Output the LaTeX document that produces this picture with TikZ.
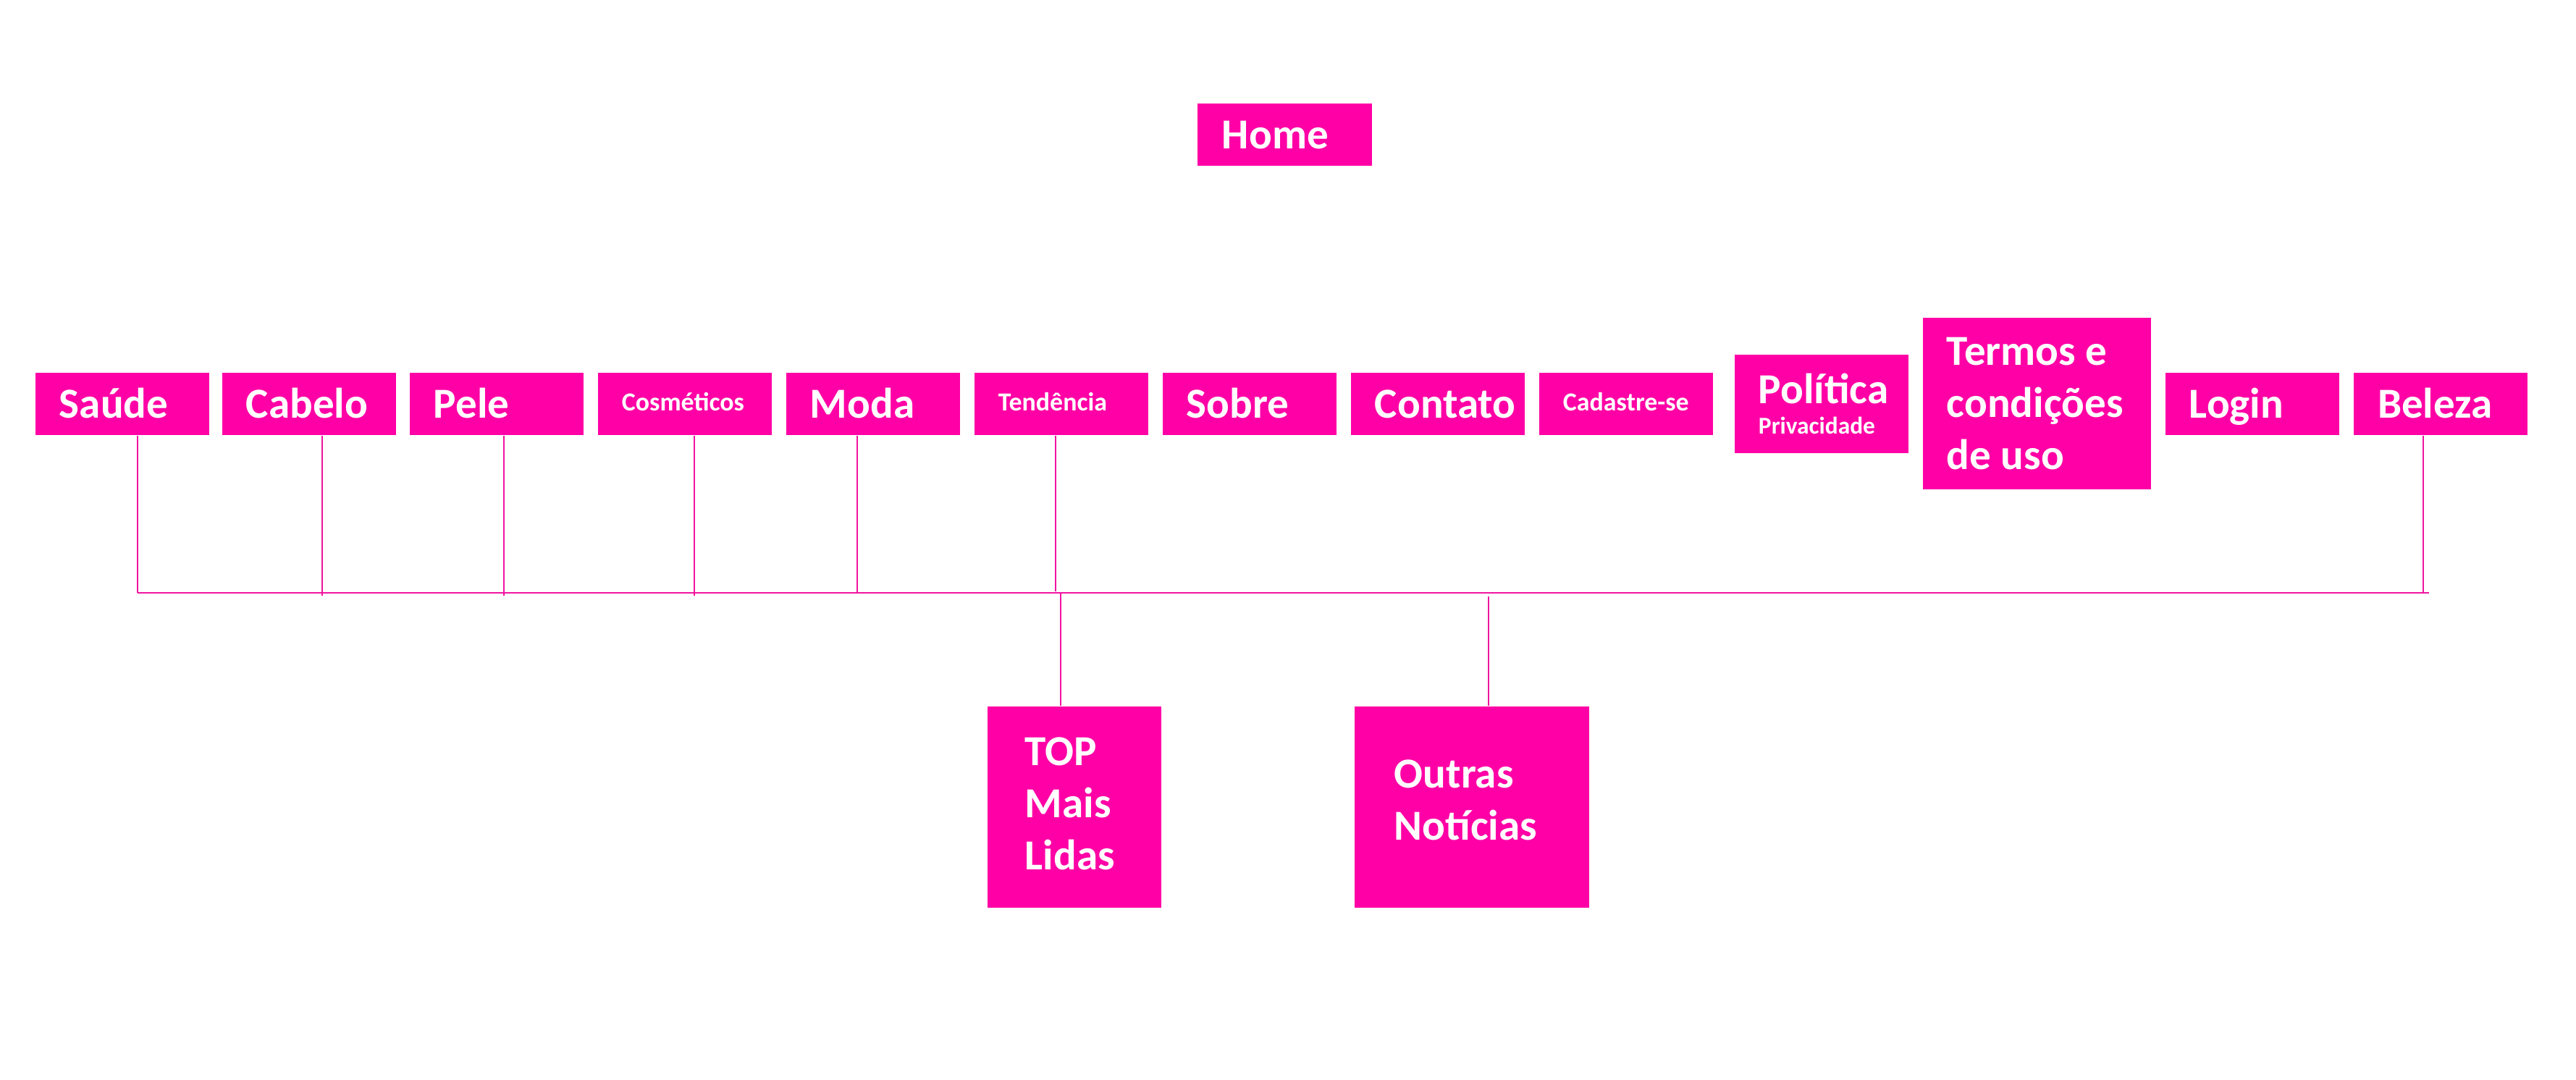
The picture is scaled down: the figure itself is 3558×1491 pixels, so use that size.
\documentclass[tikz,border=0pt]{standalone}
\usepackage{fontspec}
\setmainfont{Carlito}
\definecolor{mag}{RGB}{255,0,166}
\definecolor{lnc}{RGB}{240,20,160}
\newcommand\bigf{\fontsize{16.8}{20.5}\selectfont\bfseries}
\newcommand\smf{\fontsize{10.2}{12}\selectfont\bfseries}
\newcommand\tinyf{\fontsize{9.5}{11}\selectfont\bfseries}
\newcommand\natsp{\spaceskip=0.226em\relax}
\tikzset{
  bx/.style={fill=mag, text=white, inner xsep=0pt, inner ysep=0pt, align=left,
    font=\bigf, minimum width=2.4cm, minimum height=0.86cm, text width=1.74cm},
  one/.style={bx, text height=0.48cm, text depth=0.10cm},
  onesm/.style={bx, font=\smf, text height=0.28cm, text depth=0.10cm},
  ln/.style={draw=lnc, line width=0.55pt},
  bus/.style={draw=lnc, line width=0.7pt}
}
\begin{document}
\begin{tikzpicture}[x=0.01cm,y=-0.01cm]
\useasboundingbox (0,0) rectangle (3558,1491);
% top
\node[one, minimum width=2.41cm, text width=1.73cm] (home) at (1774.5,186) {Home};
% row
\node[one] (saude) at (169,558) {Saúde};
\node[one] (cabelo) at (427,558) {Cabelo};
\node[one] (pele) at (686,558) {Pele};
\node[onesm] (cosm) at (946,558) {Cosméticos};
\node[one] (moda) at (1206,558) {Moda};
\node[onesm] (tend) at (1466,558) {Tendência};
\node[one] (sobre) at (1726,558) {Sobre};
\node[one] (contato) at (1986,558) {Contato};
\node[onesm] (cad) at (2246,558) {Cadastre-se};
\node[bx, minimum height=1.36cm] (pol) at (2516,558) {Política\\[-8.5pt]{\tinyf Privacidade}};
\node[bx, minimum width=3.15cm, minimum height=2.37cm, text width=2.49cm] (termos) at (2813.5,557.5) {\natsp Termos e\\condições\\de uso};
\node[one] (login) at (3111,558) {Login};
\node[one] (beleza) at (3371,558) {Beleza};
% bottom
\node[bx, minimum height=2.78cm, text width=1.36cm] (top) at (1484,1115) {TOP\\Mais\\Lidas\rule[-0.09cm]{0pt}{0.09cm}};
\node[bx, minimum width=3.24cm, minimum height=2.78cm, text width=2.14cm] (outras) at (2033,1115) {Outras\\Notícias\rule[-0.2cm]{0pt}{0.2cm}};
% bus
\coordinate (busL) at (190,819);
\coordinate (busR) at (3355,819);
\coordinate (v2) at (445,823);
\coordinate (v3) at (696,823);
\coordinate (v4) at (959,823);
\coordinate (v5) at (1184,818);
\coordinate (v6) at (1458,817);
\coordinate (v7) at (3347,818);
\coordinate (t1) at (1465,819);
\coordinate (o1) at (2056,824);
\draw[bus] (busL) -- (busR);
\draw[ln] (busL |- saude.south) -- (busL);
\draw[ln] (v2 |- cabelo.south) -- (v2);
\draw[ln] (v3 |- pele.south) -- (v3);
\draw[ln] (v4 |- cosm.south) -- (v4);
\draw[ln] (v5 |- moda.south) -- (v5);
\draw[ln] (v6 |- tend.south) -- (v6);
\draw[ln] (v7 |- beleza.south) -- (v7);
\draw[ln] (t1) -- (t1 |- top.north);
\draw[ln] (o1) -- (o1 |- outras.north);
\end{tikzpicture}
\end{document}
